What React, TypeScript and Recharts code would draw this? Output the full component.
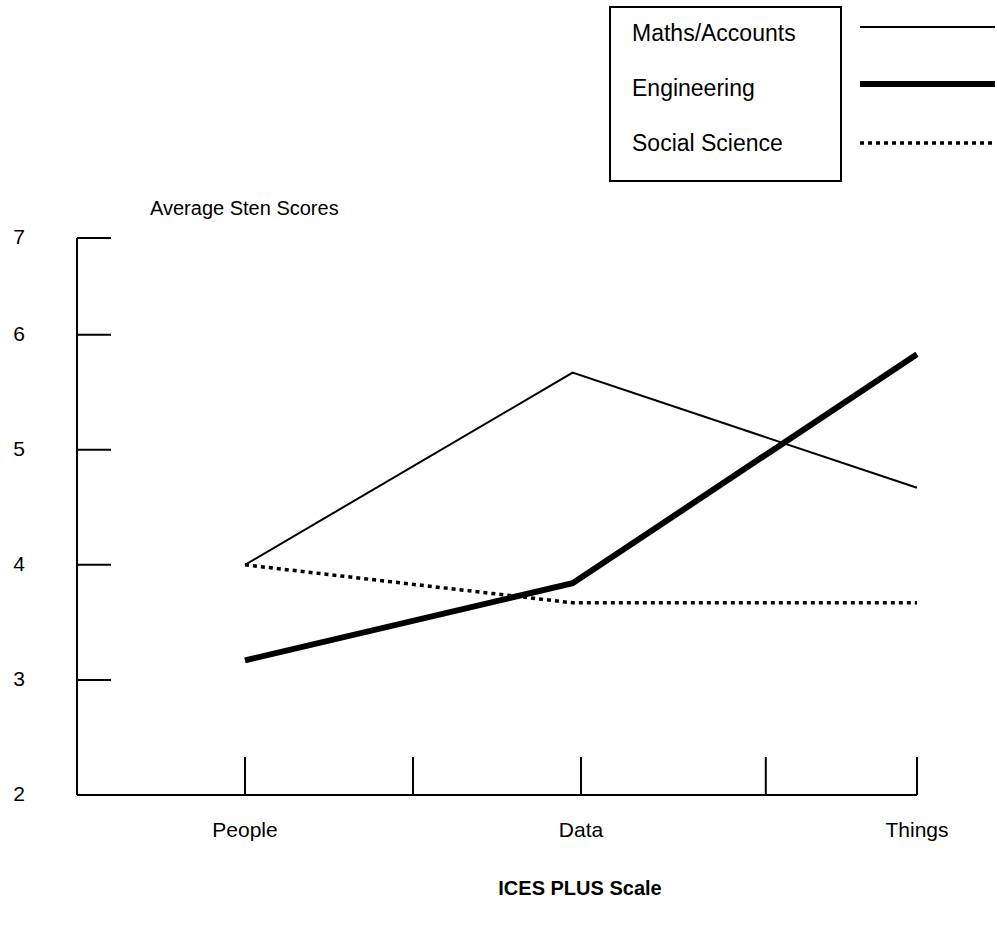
import React from "react";
import { LineChart, Line, XAxis, YAxis } from "recharts";

// ---- data ----
const categories = ["People", "Data", "Things"];
const categoryPositions = [1, 2.95, 5];
const mathsAccounts = [4.0, 5.67, 4.67];
const engineering = [3.17, 3.84, 5.83];
const socialScience = [4.0, 3.67, 3.67];

const xTicks = [1, 2, 3, 4.1, 5];
const xTickLabels = ["People", "", "Data", "", "Things"];
const yTicks = [2, 3, 4, 5, 6, 6.84];
const yTickLabels = ["2", "3", "4", "5", "6", "7"];

const seriesNames = ["Maths/Accounts", "Engineering", "Social Science"];
const seriesKeys = ["maths", "eng", "soc"];

const rows = categories.map((c, i) => ({
  name: c,
  x: categoryPositions[i],
  maths: mathsAccounts[i],
  eng: engineering[i],
  soc: socialScience[i],
}));

const FONT = "'Liberation Sans', Arial, sans-serif";

const styles: Record<string, { w: number; dash?: string }> = {
  maths: { w: 2 },
  eng: { w: 6 },
  soc: { w: 3.5, dash: "4 4" },
};

const XTick = (props: any) => {
  const { x, y, payload } = props;
  const label = xTickLabels[xTicks.indexOf(payload.value)];
  return (
    <g>
      <line x1={x} x2={x} y1={y} y2={y - 38} stroke="#000" strokeWidth={2} />
      {label ? (
        <text x={x} y={y + 42} textAnchor="middle" fontSize={21} fontFamily={FONT} fill="#000">
          {label}
        </text>
      ) : null}
    </g>
  );
};

const YTick = (props: any) => {
  const { x, y, payload } = props;
  const label = yTickLabels[yTicks.indexOf(payload.value)];
  return (
    <g>
      <line x1={x} x2={x + 34} y1={y} y2={y} stroke="#000" strokeWidth={2} />
      <text x={x - 52} y={y + 6} textAnchor="end" fontSize={21} fontFamily={FONT} fill="#000">
        {label}
      </text>
    </g>
  );
};

export default function App() {
  return (
    <div style={{ position: "absolute", left: 0, top: 0, width: 997, height: 926, background: "#fff" }}>
      <LineChart
        width={997}
        height={926}
        data={rows}
        margin={{ top: 238, right: 80, bottom: 0, left: 0 }}
      >
        <XAxis
          type="number"
          dataKey="x"
          domain={[0, 5]}
          ticks={xTicks}
          interval={0}
          height={131}
          tickSize={0}
          tickMargin={0}
          tickLine={false}
          axisLine={{ stroke: "#000", strokeWidth: 2 }}
          tick={<XTick />}
        />
        <YAxis
          type="number"
          domain={[2, 6.84]}
          ticks={yTicks}
          interval={0}
          width={77}
          tickSize={0}
          tickMargin={0}
          tickLine={false}
          axisLine={{ stroke: "#000", strokeWidth: 2 }}
          tick={<YTick />}
        />
        {seriesKeys.map((k, i) => (
          <Line
            key={k}
            type="linear"
            dataKey={k}
            name={seriesNames[i]}
            stroke="#000"
            strokeWidth={styles[k].w}
            strokeDasharray={styles[k].dash}
            dot={false}
            activeDot={false}
            isAnimationActive={false}
          />
        ))}
      </LineChart>
      <svg
        width={997}
        height={926}
        style={{ position: "absolute", left: 0, top: 0, pointerEvents: "none" }}
      >
        <text x={150} y={215} fontSize={20} fontFamily={FONT} fill="#000">
          Average Sten Scores
        </text>
        <text x={580} y={895} textAnchor="middle" fontSize={20} fontWeight="bold" fontFamily={FONT} fill="#000">
          ICES PLUS Scale
        </text>
        <rect x={610} y={7} width={231} height={174} fill="none" stroke="#000" strokeWidth={2} />
        {seriesKeys.map((k, i) => {
          const ty = [41, 96, 151][i];
          const ly = [27, 84, 143][i];
          return (
            <g key={k}>
              <text x={632} y={ty} fontSize={23} fontFamily={FONT} fill="#000">
                {seriesNames[i]}
              </text>
              <line
                x1={860}
                x2={995}
                y1={ly}
                y2={ly}
                stroke="#000"
                strokeWidth={styles[k].w}
                strokeDasharray={styles[k].dash}
              />
            </g>
          );
        })}
      </svg>
    </div>
  );
}
